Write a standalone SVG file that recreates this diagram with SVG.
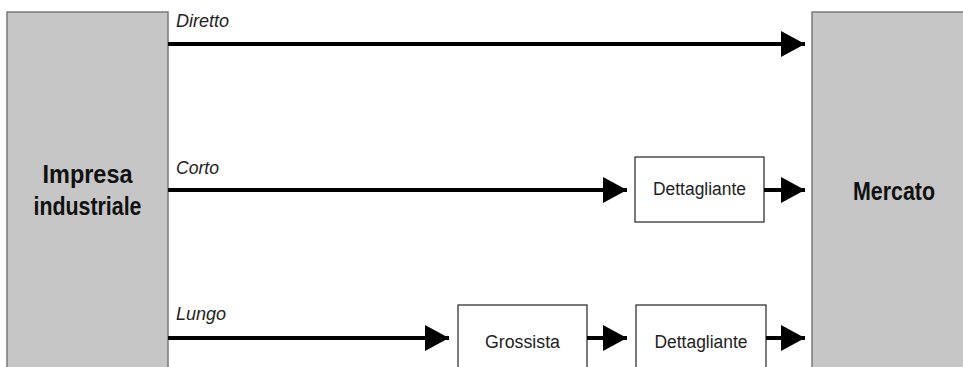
<svg xmlns="http://www.w3.org/2000/svg" width="963" height="367" viewBox="0 0 963 367">
  <style>
    .party { fill: #c6c6c6; stroke: #7a7a7a; stroke-width: 1.5; }
    .inter { fill: #ffffff; stroke: #222222; stroke-width: 1.2; }
    .title { font-family: "Liberation Sans", Arial, sans-serif; font-weight: bold; font-size: 25px; fill: #111111; text-anchor: middle; }
    .lbl { font-family: "Liberation Sans", Arial, sans-serif; font-size: 18px; fill: #222222; text-anchor: middle; }
    .chan { font-family: "Liberation Sans", Arial, sans-serif; font-style: italic; font-size: 18px; fill: #222222; }
    .link { stroke: #000000; stroke-width: 4; fill: none; marker-end: url(#head); }
  </style>
  <defs>
    <marker id="head" viewBox="0 0 24 26" refX="24" refY="13" markerWidth="24" markerHeight="26" markerUnits="userSpaceOnUse" orient="auto">
      <path d="M0,0 L24,13 L0,26 Z" fill="#000000"/>
    </marker>
  </defs>
  <rect width="963" height="367" fill="#ffffff"/>

  <g id="impresa">
    <rect class="party" x="7" y="12" width="161" height="370"/>
    <text class="title" x="87.5" y="183" textLength="90" lengthAdjust="spacingAndGlyphs">Impresa</text>
    <text class="title" x="87.5" y="215" textLength="108" lengthAdjust="spacingAndGlyphs">industriale</text>
  </g>

  <g id="mercato">
    <rect class="party" x="812" y="12" width="170" height="370"/>
    <text class="title" x="894" y="200" textLength="82" lengthAdjust="spacingAndGlyphs">Mercato</text>
  </g>

  <g id="dettagliante-corto">
    <rect class="inter" x="635" y="157" width="129" height="65"/>
    <text class="lbl" x="699.5" y="195" textLength="93" lengthAdjust="spacingAndGlyphs">Dettagliante</text>
  </g>

  <g id="grossista">
    <rect class="inter" x="458" y="305" width="129" height="80"/>
    <text class="lbl" x="522.5" y="348" textLength="75" lengthAdjust="spacingAndGlyphs">Grossista</text>
  </g>

  <g id="dettagliante-lungo">
    <rect class="inter" x="636" y="305" width="130" height="80"/>
    <text class="lbl" x="701" y="348" textLength="93" lengthAdjust="spacingAndGlyphs">Dettagliante</text>
  </g>

  <g id="connectors">
    <line class="link" x1="168" y1="44" x2="805" y2="44"/>
    <line class="link" x1="168" y1="190" x2="627" y2="190"/>
    <line class="link" x1="764" y1="190" x2="805" y2="190"/>
    <line class="link" x1="168" y1="338" x2="449" y2="338"/>
    <line class="link" x1="587" y1="338" x2="627" y2="338"/>
    <line class="link" x1="766" y1="338" x2="805" y2="338"/>
    <text class="chan" x="176" y="27" textLength="53" lengthAdjust="spacingAndGlyphs">Diretto</text>
    <text class="chan" x="176" y="174" textLength="43" lengthAdjust="spacingAndGlyphs">Corto</text>
    <text class="chan" x="176" y="320" textLength="50" lengthAdjust="spacingAndGlyphs">Lungo</text>
  </g>
</svg>
